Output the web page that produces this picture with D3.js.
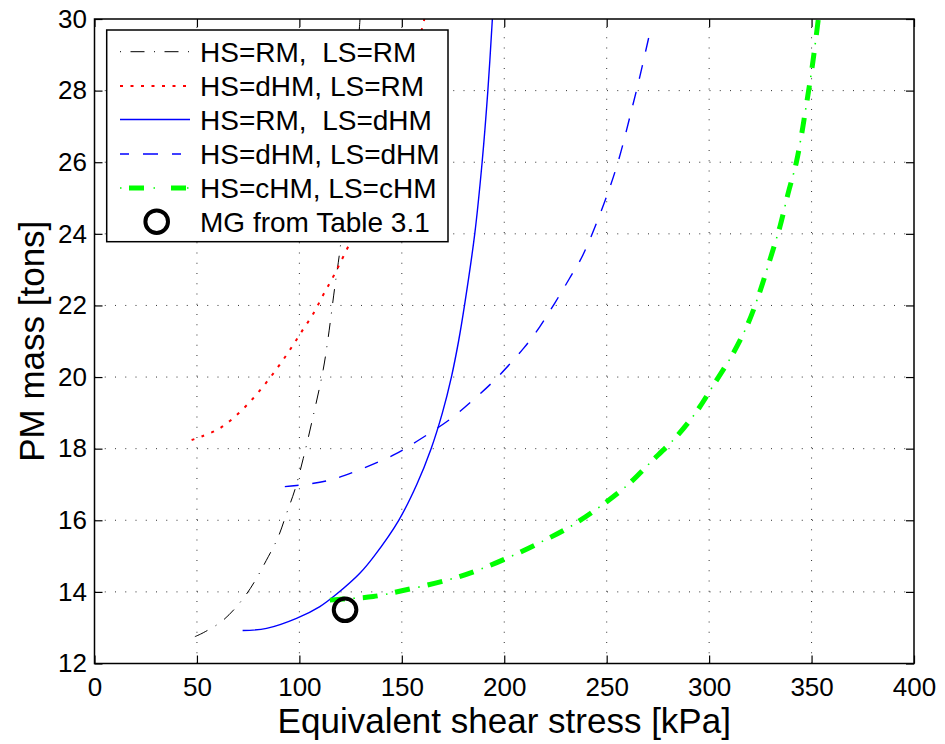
<!DOCTYPE html>
<html>
<head>
<meta charset="utf-8">
<script src="https://cdn.jsdelivr.net/npm/d3@7"></script>
<style>
  body { margin: 0; background: #fff; }
  svg { display: block; font-family: "Liberation Sans", Arial, Helvetica, sans-serif; }
</style>
</head>
<body>
<svg id="chart" width="945" height="744"></svg>
<script>
// ticks
const xTicks = [0, 50, 100, 150, 200, 250, 300, 350, 400]
const yTicks = [12, 14, 16, 18, 20, 22, 24, 26, 28, 30]

// HS=RM, LS=RM
const rmRmX = [49, 53.1, 62.8, 74.2, 84.8, 89.7, 93.8, 97.8, 101.9, 106.7, 111.6, 114, 117.3, 119.8, 123.5, 126.8, 129.6]
const rmRmY = [12.75, 12.86, 13.21, 13.94, 14.98, 15.54, 16.2, 16.85, 17.73, 18.9, 20.2, 21.08, 22.52, 23.55, 25.6, 27.8, 30]

// HS=dHM, LS=RM
const dhmRmX = [47.4, 52.3, 61.2, 69.4, 76.7, 83.2, 89.7, 95.4, 101.1, 106.7, 111.6, 116.5, 121.4, 130, 140, 150, 161]
const dhmRmY = [18.24, 18.34, 18.57, 18.94, 19.36, 19.8, 20.29, 20.76, 21.27, 21.76, 22.29, 22.8, 23.36, 24.4, 25.85, 27.55, 30]

// HS=RM, LS=dHM
const rmDhmX = [72.3, 84, 98.6, 110, 118.2, 129.5, 136.5, 148.5, 157.3, 164.3, 169.8, 174.2, 177.7, 180.6, 185.6, 189.2, 192, 194.2]
const rmDhmY = [12.92, 12.98, 13.26, 13.59, 13.94, 14.52, 15, 16, 17, 18, 19, 20, 21, 22, 24, 26, 28, 30]

// HS=dHM, LS=dHM
const dhmDhmX = [92.9, 98.6, 113.3, 126.2, 145.8, 157.2, 174.2, 184.8, 195.4, 209.4, 217.4, 224.6, 231.9, 238.4, 249.1, 255.6, 262.2, 266.2, 271.9]
const dhmDhmY = [16.94, 16.97, 17.1, 17.34, 17.82, 18.2, 18.85, 19.36, 19.92, 20.8, 21.41, 22.06, 22.76, 23.41, 24.91, 26.02, 27.47, 28.4, 29.83]

// HS=cHM, LS=cHM
const chmChmX = [114.9, 126.3, 136.1, 150, 173.5, 187.3, 202.8, 218.2, 232.1, 246.7, 259.7, 271.1, 284.1, 293.9, 302.4, 311.8, 319.1, 324.8, 329.7, 334.6, 338.6, 342.7, 348.4, 350.8, 353.3]
const chmChmY = [13.77, 13.82, 13.87, 14.03, 14.35, 14.61, 14.98, 15.40, 15.82, 16.38, 16.96, 17.6, 18.34, 19.04, 19.8, 20.67, 21.51, 22.39, 23.28, 24.21, 25.14, 26.03, 27.94, 28.87, 30]

// MG from Table 3.1
const mgX = [122.3]
const mgY = [13.5]

const legendLabels = ["HS=RM,  LS=RM", "HS=dHM, LS=RM", "HS=RM,  LS=dHM", "HS=dHM, LS=dHM", "HS=cHM, LS=cHM", "MG from Table 3.1"]

const svg = d3.select("#chart")
const pLeft = 94.5, pRight = 914, pTop = 19, pBottom = 663.5

const x = d3.scaleLinear().domain([0, 400]).range([pLeft, pRight])
const y = d3.scaleLinear().domain([12, 30]).range([pBottom, pTop])

// grid
const grid = svg.append("g")
    .attr("stroke", "#333")
    .attr("stroke-width", 1)
    .attr("stroke-dasharray", "1,9.25")
grid.selectAll(".gx").data(xTicks.slice(1, -1)).enter().append("line")
    .attr("x1", d => x(d)).attr("x2", d => x(d))
    .attr("y1", pBottom).attr("y2", pTop)
grid.selectAll(".gy").data(yTicks.slice(1, -1)).enter().append("line")
    .attr("x1", pLeft).attr("x2", pRight)
    .attr("y1", d => y(d)).attr("y2", d => y(d))

// axes, ticks inside
function styleAxis(g) {
    g.select(".domain").remove()
    g.selectAll(".tick line").attr("stroke", "#000").attr("stroke-width", 1.2)
    g.selectAll("text").attr("font-size", 26).attr("fill", "#000")
        .attr("font-family", "Liberation Sans, Arial, sans-serif")
}

svg.append("g")
    .attr("transform", "translate(0," + pBottom + ")")
    .call(d3.axisBottom(x).tickValues(xTicks).tickSize(-8).tickPadding(14.5))
    .call(styleAxis)

svg.append("g")
    .attr("transform", "translate(0," + pTop + ")")
    .call(d3.axisTop(x).tickValues(xTicks).tickSize(-8).tickFormat(""))
    .call(styleAxis)

svg.append("g")
    .attr("transform", "translate(" + pLeft + ",0)")
    .call(d3.axisLeft(y).tickValues(yTicks).tickSize(-8).tickPadding(7.5))
    .call(styleAxis)

svg.append("g")
    .attr("transform", "translate(" + pRight + ",0)")
    .call(d3.axisRight(y).tickValues(yTicks).tickSize(-8).tickFormat(""))
    .call(styleAxis)

svg.append("defs").append("clipPath").attr("id", "plotClip")
    .append("rect")
    .attr("x", pLeft).attr("y", pTop)
    .attr("width", pRight - pLeft).attr("height", pBottom - pTop)

const line = d3.line()
    .x(d => x(d[0]))
    .y(d => y(d[1]))
    .curve(d3.curveCatmullRom.alpha(0.5))

const series = [
    { xs: rmRmX, ys: rmRmY, color: "#000", width: 1, dash: "14,9.5,1,9.5", lgDash: "1,9.5,14,9.5" },
    { xs: dhmRmX, ys: dhmRmY, color: "#ff0000", width: 2, dash: "3,7.5", lgDash: "3,7.5" },
    { xs: rmDhmX, ys: rmDhmY, color: "#0000ff", width: 1.4, dash: null, lgDash: null },
    { xs: dhmDhmX, ys: dhmDhmY, color: "#0000ff", width: 1.4, dash: "14,13.6", lgDash: "9,14,15,14" },
    { xs: chmChmX, ys: chmChmY, color: "#00ff00", width: 5, dash: "15,18", dot: "0,23.5,1.5,8", lgDash: "0,9,15,18" }
]

const plot = svg.append("g").attr("clip-path", "url(#plotClip)")

series.forEach(function(s) {
    const pts = s.xs.map((v, i) => [v, s.ys[i]])
    plot.append("path")
        .attr("d", line(pts))
        .attr("fill", "none")
        .attr("stroke", s.color)
        .attr("stroke-width", s.width)
        .attr("stroke-dasharray", s.dash)
    if (s.dot) {
        plot.append("path")
            .attr("d", line(pts))
            .attr("fill", "none")
            .attr("stroke", s.color)
            .attr("stroke-width", 1.6)
            .attr("stroke-dasharray", s.dot)
    }
})

plot.selectAll(".mg").data(mgX).enter().append("circle")
    .attr("cx", d => x(d))
    .attr("cy", (d, i) => y(mgY[i]))
    .attr("r", 11.3)
    .attr("fill", "none")
    .attr("stroke", "#000")
    .attr("stroke-width", 4)

// box
svg.append("rect")
    .attr("x", pLeft).attr("y", pTop)
    .attr("width", pRight - pLeft).attr("height", pBottom - pTop)
    .attr("fill", "none").attr("stroke", "#000").attr("stroke-width", 1.5)

// legend
const lg = svg.append("g")
lg.append("rect")
    .attr("x", 106.7).attr("y", 30)
    .attr("width", 341.3).attr("height", 211.7)
    .attr("fill", "#fff").attr("stroke", "#000").attr("stroke-width", 1.5)

const rowY = [51.7, 86, 119.5, 154, 188, 221.7]
series.forEach(function(s, i) {
    lg.append("line")
        .attr("x1", 120).attr("x2", 190)
        .attr("y1", rowY[i]).attr("y2", rowY[i])
        .attr("stroke", s.color)
        .attr("stroke-width", s.width)
        .attr("stroke-dasharray", s.lgDash)
    if (s.dot) {
        lg.append("line")
            .attr("x1", 120).attr("x2", 190)
            .attr("y1", rowY[i]).attr("y2", rowY[i])
            .attr("stroke", s.color).attr("stroke-width", 1.6)
            .attr("stroke-dasharray", "1.5,32")
    }
})
lg.append("circle")
    .attr("cx", 156.7).attr("cy", rowY[5])
    .attr("r", 11.3)
    .attr("fill", "none").attr("stroke", "#000").attr("stroke-width", 4)

lg.selectAll(".lt").data(legendLabels).enter().append("text")
    .attr("x", 200)
    .attr("y", (d, i) => rowY[i] + 10)
    .attr("font-size", 28)
    .style("white-space", "pre")
    .text(d => d)

// axis labels
svg.append("text")
    .attr("x", (pLeft + pRight) / 2)
    .attr("y", 733)
    .attr("text-anchor", "middle")
    .attr("font-size", 35)
    .text("Equivalent shear stress [kPa]")

svg.append("text")
    .attr("transform", "translate(44," + ((pTop + pBottom) / 2) + ") rotate(-90)")
    .attr("text-anchor", "middle")
    .attr("font-size", 35)
    .text("PM mass [tons]")
</script>
</body>
</html>
